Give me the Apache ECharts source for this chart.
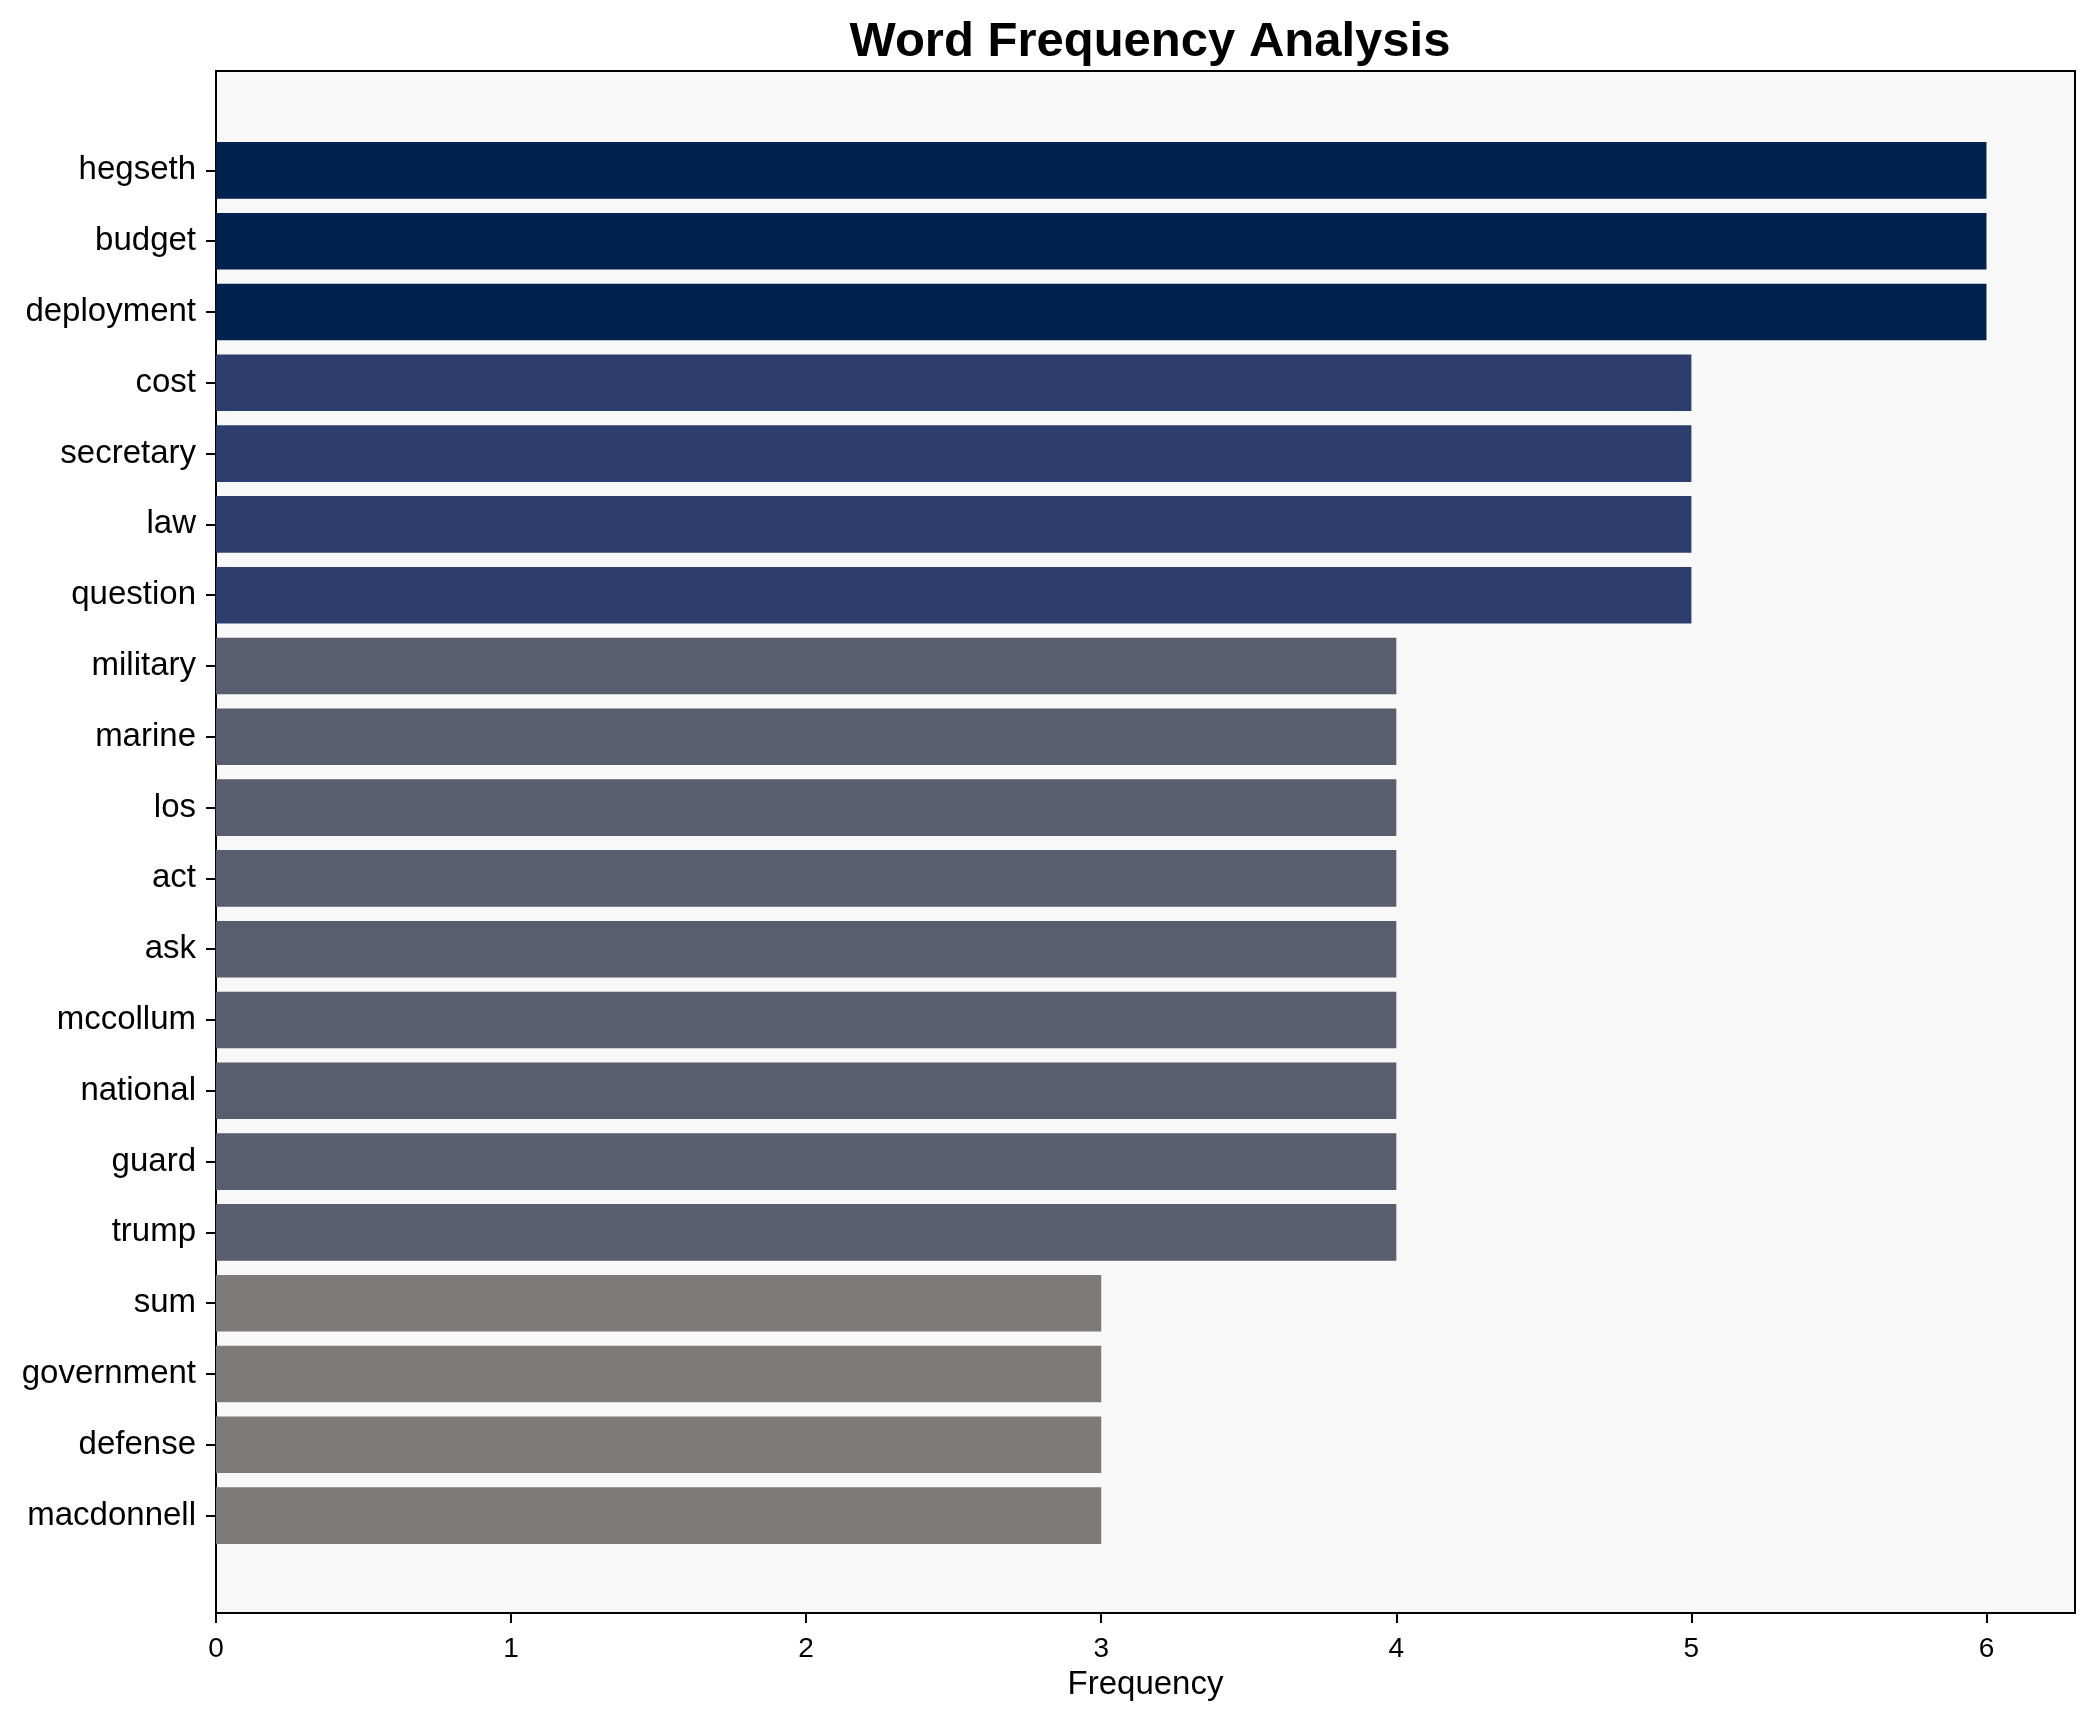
<!DOCTYPE html>
<html>
<head>
<meta charset="utf-8">
<script src="https://cdn.jsdelivr.net/npm/echarts@6/dist/echarts.min.js"></script>
<style>
html,body{margin:0;padding:0;background:#fff;}
#chart{width:2095px;height:1722px;}
</style>
</head>
<body>
<div id="chart"></div>
<script>
const words = ["hegseth","budget","deployment","cost","secretary","law","question","military","marine","los","act","ask","mccollum","national","guard","trump","sum","government","defense","macdonnell"];
const frequencies = [6,6,6,5,5,5,5,4,4,4,4,4,4,4,4,4,3,3,3,3];
const xTicks = [0,1,2,3,4,5,6];
const levelColors = {6:"#00224e",5:"#2d3e6e",4:"#585e6e",3:"#7c7b78"};

const FONT = "'Liberation Sans', Arial, sans-serif";
const chart = echarts.init(document.getElementById('chart'), null, {renderer:'canvas'});
chart.setOption({
  animation:false,
  backgroundColor:'#ffffff',
  title:{
    text:'Word Frequency Analysis',
    left:1145, top:13, textAlign:'center',
    textStyle:{fontFamily:FONT,fontSize:49,fontWeight:'bold',color:'#000'}
  },
  grid:[
    {left:216,top:71,width:1859,height:1542,show:true,backgroundColor:'#f8f8f8',borderColor:'#000',borderWidth:2,z:0},
    {left:216,top:135,width:1859,height:1416,show:false}
  ],
  xAxis:[
    {gridIndex:0,type:'value',min:0,max:1,show:false},
    {gridIndex:1,type:'value',min:0,max:6.3,interval:1,position:'bottom',offset:62,
     axisLine:{show:false},
     splitLine:{show:false},
     axisTick:{show:true,length:10,inside:false,lineStyle:{color:'#000',width:2},customValues:xTicks},
     axisLabel:{fontFamily:FONT,fontSize:28,color:'#000',margin:22,customValues:xTicks},
     name:'Frequency',nameLocation:'middle',nameGap:55,
     nameTextStyle:{fontFamily:FONT,fontSize:33,color:'#000'}
    }
  ],
  yAxis:[
    {gridIndex:0,type:'value',min:0,max:1,show:false},
    {gridIndex:1,type:'category',inverse:true,data:words,
     axisLine:{show:false},
     axisTick:{show:true,length:10,inside:false,alignWithLabel:true,lineStyle:{color:'#000',width:2}},
     axisLabel:{fontFamily:FONT,fontSize:33,color:'#000',margin:20,interval:0,padding:[10,0,0,0]},
     splitLine:{show:false}
    }
  ],
  series:[{
    type:'bar',xAxisIndex:1,yAxisIndex:1,
    barCategoryGap:'20%',
    data:frequencies.map(v=>({value:v,itemStyle:{color:levelColors[v]}})),
    z:3
  }]
});
</script>
</body>
</html>
